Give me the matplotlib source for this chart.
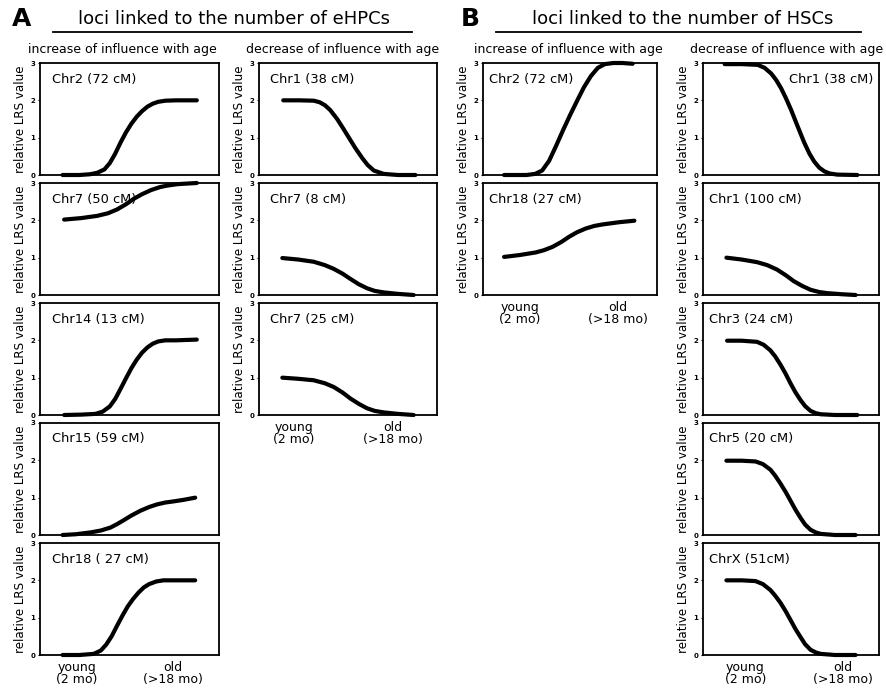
import matplotlib
matplotlib.use("Agg")
import matplotlib.pyplot as plt

plt.rcParams['font.family'] = ['DejaVu Sans']

# ---- data (x: position along age axis, 0..10 box units; y: relative LRS value) ----
# A, increase of influence with age
a_chr2_72_x = [1.26, 2.2, 2.8, 3.2, 3.6, 3.9, 4.2, 4.5, 4.8, 5.1, 5.4, 5.7, 6.0, 6.3, 6.6, 7.0, 7.6, 8.76]
a_chr2_72_y = [0, 0, 0.02, 0.06, 0.15, 0.32, 0.57, 0.87, 1.14, 1.37, 1.56, 1.71, 1.83, 1.91, 1.96, 1.99, 2.0, 2.0]
a_chr7_50_x = [1.35, 2.3, 3.2, 3.8, 4.3, 4.8, 5.25, 5.7, 6.2, 6.7, 7.1, 7.7, 8.76]
a_chr7_50_y = [2.02, 2.06, 2.12, 2.19, 2.29, 2.43, 2.58, 2.7, 2.81, 2.89, 2.93, 2.97, 3.0]
a_chr14_13_x = [1.35, 2.3, 3.1, 3.5, 3.9, 4.2, 4.5, 4.8, 5.1, 5.4, 5.7, 6.0, 6.3, 6.6, 7.0, 7.6, 8.76]
a_chr14_13_y = [0, 0.01, 0.03, 0.09, 0.23, 0.43, 0.7, 0.98, 1.25, 1.48, 1.67, 1.81, 1.91, 1.97, 2.0, 2.0, 2.02]
a_chr15_59_x = [1.26, 2.0, 2.83, 3.4, 3.94, 4.3, 4.69, 5.1, 5.61, 6.1, 6.54, 7.0, 7.46, 8.0, 8.67]
a_chr15_59_y = [0, 0.02, 0.07, 0.12, 0.2, 0.29, 0.4, 0.52, 0.65, 0.75, 0.82, 0.87, 0.9, 0.94, 1.0]
a_chr18_27_x = [1.26, 2.2, 3.0, 3.4, 3.7, 4.0, 4.3, 4.6, 4.9, 5.2, 5.5, 5.8, 6.1, 6.5, 6.9, 7.5, 8.67]
a_chr18_27_y = [0, 0, 0.03, 0.12, 0.28, 0.5, 0.78, 1.05, 1.3, 1.5, 1.67, 1.81, 1.9, 1.97, 2.0, 2.0, 2.0]
# A, decrease of influence with age
a_chr1_38_x = [1.36, 2.3, 3.08, 3.4, 3.7, 4.0, 4.39, 4.7, 5.05, 5.4, 5.79, 6.1, 6.45, 7.0, 7.8, 8.79]
a_chr1_38_y = [2.0, 2.0, 1.99, 1.95, 1.87, 1.74, 1.5, 1.27, 1.0, 0.73, 0.46, 0.27, 0.12, 0.03, 0.0, 0.0]
a_chr7_8_x = [1.31, 2.2, 3.08, 3.7, 4.2, 4.7, 5.14, 5.6, 6.07, 6.5, 7.0, 7.8, 8.69]
a_chr7_8_y = [0.99, 0.95, 0.89, 0.8, 0.7, 0.57, 0.43, 0.29, 0.18, 0.11, 0.07, 0.03, 0.0]
a_chr7_25_x = [1.31, 2.2, 3.08, 3.7, 4.2, 4.7, 5.14, 5.6, 6.07, 6.5, 7.0, 7.8, 8.69]
a_chr7_25_y = [1.0, 0.97, 0.93, 0.85, 0.75, 0.6, 0.44, 0.3, 0.18, 0.11, 0.07, 0.03, 0.0]
# B, increase of influence with age
b_chr2_72_x = [1.21, 2.5, 3.0, 3.4, 3.8, 4.2, 4.6, 5.0, 5.4, 5.8, 6.2, 6.6, 7.0, 7.5, 8.0, 8.6]
b_chr2_72_y = [0, 0, 0.03, 0.12, 0.38, 0.78, 1.2, 1.6, 1.98, 2.35, 2.65, 2.87, 2.97, 3.0, 3.0, 2.98]
b_chr18_27_x = [1.21, 2.1, 3.03, 3.5, 4.0, 4.5, 4.95, 5.4, 5.9, 6.4, 6.87, 7.35, 7.83, 8.7]
b_chr18_27_y = [1.02, 1.07, 1.14, 1.2, 1.29, 1.42, 1.56, 1.68, 1.78, 1.85, 1.89, 1.92, 1.95, 1.99]
# B, decrease of influence with age
b_chr1_38_x = [1.23, 2.2, 3.11, 3.5, 3.87, 4.15, 4.43, 4.7, 5.0, 5.38, 5.75, 6.05, 6.32, 6.6, 6.89, 7.2, 7.64, 8.77]
b_chr1_38_y = [2.97, 2.97, 2.95, 2.87, 2.72, 2.55, 2.33, 2.07, 1.75, 1.3, 0.87, 0.57, 0.36, 0.2, 0.1, 0.04, 0.01, 0.0]
b_chr1_100_x = [1.33, 2.2, 3.07, 3.65, 4.21, 4.7, 5.16, 5.65, 6.11, 6.6, 7.06, 7.9, 8.67]
b_chr1_100_y = [1.0, 0.95, 0.88, 0.8, 0.68, 0.53, 0.37, 0.24, 0.14, 0.08, 0.05, 0.02, 0.0]
b_chr3_24_x = [1.37, 2.2, 3.07, 3.45, 3.83, 4.1, 4.4, 4.7, 4.97, 5.25, 5.54, 5.8, 6.11, 6.4, 6.68, 7.5, 8.77]
b_chr3_24_y = [1.99, 1.99, 1.96, 1.88, 1.73, 1.57, 1.35, 1.1, 0.85, 0.61, 0.4, 0.24, 0.11, 0.05, 0.02, 0.0, 0.0]
b_chr5_20_x = [1.33, 2.2, 2.98, 3.4, 3.83, 4.1, 4.4, 4.7, 4.97, 5.25, 5.54, 5.8, 6.11, 6.4, 6.68, 7.5, 8.67]
b_chr5_20_y = [1.99, 1.99, 1.97, 1.9, 1.75, 1.59, 1.38, 1.15, 0.92, 0.68, 0.46, 0.28, 0.14, 0.07, 0.03, 0.0, 0.0]
b_chrx_51_x = [1.33, 2.2, 2.98, 3.4, 3.83, 4.1, 4.4, 4.7, 4.97, 5.25, 5.54, 5.8, 6.11, 6.4, 6.68, 7.5, 8.67]
b_chrx_51_y = [2.0, 2.0, 1.98, 1.9, 1.74, 1.59, 1.4, 1.17, 0.94, 0.7, 0.48, 0.29, 0.14, 0.07, 0.03, 0.0, 0.0]

y_ticks = [0, 1, 2, 3]
x_tick_labels = ["young\n(2 mo)", "old\n(>18 mo)"]
col_tick_pos = [[2.07, 7.43], [1.96, 7.5], [2.1, 7.76], [2.4, 7.95]]
col_titles = ["increase of influence with age", "decrease of influence with age",
              "increase of influence with age", "decrease of influence with age"]

columns = [
    [("Chr2 (72 cM)", a_chr2_72_x, a_chr2_72_y), ("Chr7 (50 cM)", a_chr7_50_x, a_chr7_50_y),
     ("Chr14 (13 cM)", a_chr14_13_x, a_chr14_13_y), ("Chr15 (59 cM)", a_chr15_59_x, a_chr15_59_y),
     ("Chr18 ( 27 cM)", a_chr18_27_x, a_chr18_27_y)],
    [("Chr1 (38 cM)", a_chr1_38_x, a_chr1_38_y), ("Chr7 (8 cM)", a_chr7_8_x, a_chr7_8_y),
     ("Chr7 (25 cM)", a_chr7_25_x, a_chr7_25_y)],
    [("Chr2 (72 cM)", b_chr2_72_x, b_chr2_72_y), ("Chr18 (27 cM)", b_chr18_27_x, b_chr18_27_y)],
    [("Chr1 (38 cM)", b_chr1_38_x, b_chr1_38_y), ("Chr1 (100 cM)", b_chr1_100_x, b_chr1_100_y),
     ("Chr3 (24 cM)", b_chr3_24_x, b_chr3_24_y), ("Chr5 (20 cM)", b_chr5_20_x, b_chr5_20_y),
     ("ChrX (51cM)", b_chrx_51_x, b_chrx_51_y)],
]

# ---- layout (pixels) ----
W, H = 886, 689
col_x = [(40, 219), (259, 437), (483, 657), (703, 879)]
row_tops = [63, 183, 303, 423, 543]
panel_h = 112
col_title_x = [122, 343, 568, 787]
label_pad = [12, 11, 6, 6]

fig = plt.figure(figsize=(W / 100, H / 100), dpi=100)

for c, panels in enumerate(columns):
    x0, x1 = col_x[c]
    fig.text(col_title_x[c] / W, 1 - 50 / H, col_titles[c], ha="center", va="center", fontsize=9)
    for r, (name, xs, ys) in enumerate(panels):
        top = row_tops[r]
        ax = fig.add_axes([x0 / W, 1 - (top + panel_h) / H, (x1 - x0) / W, panel_h / H])
        ax.plot(xs, ys, color="black", lw=3.0, solid_capstyle="round", solid_joinstyle="round", clip_on=False)
        ax.set_xlim(0, 10)
        ax.set_ylim(0, 3)
        ax.set_yticks(y_ticks)
        ax.set_yticklabels([str(t) for t in y_ticks], fontsize=5, fontweight="bold")
        ax.tick_params(axis="y", length=1.5, width=0.8, pad=2)
        ax.set_ylabel("relative LRS value", fontsize=8.6, labelpad=2)
        for s in ax.spines.values():
            s.set_linewidth(1.3)
        if r == len(panels) - 1:
            ax.set_xticks(col_tick_pos[c])
            ax.set_xticklabels(x_tick_labels, fontsize=9, linespacing=0.95)
            ax.tick_params(axis="x", length=0, pad=4)
        else:
            ax.set_xticks([])
        if c == 3 and r == 0:
            ax.text(1 - 6 / (x1 - x0), 1 - 16 / panel_h, name, transform=ax.transAxes,
                    ha="right", va="center", fontsize=9.4)
        else:
            ax.text(label_pad[c] / (x1 - x0), 1 - 16 / panel_h, name, transform=ax.transAxes,
                    ha="left", va="center", fontsize=9.4)

# panel letters and headers
fig.text(22 / W, 1 - 19 / H, "A", ha="center", va="center", fontsize=18, fontweight="bold")
fig.text(470 / W, 1 - 19 / H, "B", ha="center", va="center", fontsize=18, fontweight="bold")
fig.text(234 / W, 1 - 19 / H, "loci linked to the number of eHPCs", ha="center", va="center", fontsize=13)
fig.text(683 / W, 1 - 19 / H, "loci linked to the number of HSCs", ha="center", va="center", fontsize=13)
fig.add_artist(plt.Line2D([53 / W, 412 / W], [1 - 32 / H, 1 - 32 / H], color="black", lw=1.3))
fig.add_artist(plt.Line2D([496 / W, 861 / W], [1 - 32 / H, 1 - 32 / H], color="black", lw=1.3))

fig.savefig("out.png", dpi=100)
